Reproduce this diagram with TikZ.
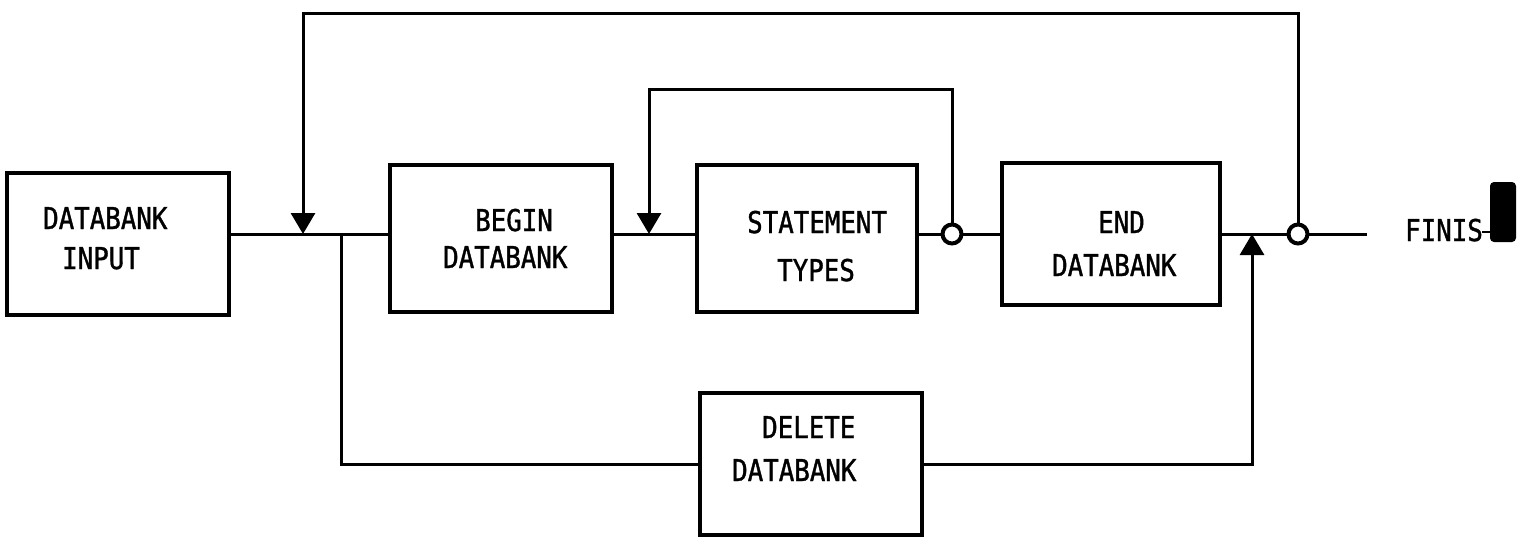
\documentclass[tikz,border=0pt]{standalone}
\usepackage{fontspec}
\newfontfamily\printfont[FakeStretch=0.86,FakeBold=1.2]{DejaVu Sans Mono}
\usetikzlibrary{arrows.meta}
\begin{document}
\begin{tikzpicture}[x=1pt,y=-1pt,
  blk/.style={draw,line width=3.4pt,inner sep=0pt},
  lbl/.style={anchor=base west,inner sep=0pt,font=\printfont\fontsize{30}{36}\selectfont},
  wire/.style={line width=3pt},
  feed/.style={wire,-{Triangle[width=24pt,length=21pt]}},
  tapring/.style={circle,draw,line width=4pt,fill=white,minimum size=19pt,inner sep=0pt}]
\useasboundingbox (0,0) rectangle (1519,539);

% processing blocks
\node[blk,minimum width=222,minimum height=142] (inp) at (118,244) {};
\node[blk,minimum width=222,minimum height=147] (beg) at (501,238.5) {};
\node[blk,minimum width=220,minimum height=147] (sta) at (807,238.5) {};
\node[blk,minimum width=218,minimum height=142] (fin) at (1111,234) {};
\node[blk,minimum width=222,minimum height=142] (del) at (811,464) {};

% block captions
\node[lbl] (inp1) at (43,229) {DATABANK};
\node[lbl] (inp2) at (62,269) {INPUT};
\node[lbl] (beg1) at (475,231) {BEGIN};
\node[lbl] (beg2) at (443,268) {DATABANK};
\node[lbl] (sta1) at (747,233) {STATEMENT};
\node[lbl] (sta2) at (777,281) {TYPES};
\node[lbl] (fin1) at (1098,233) {END};
\node[lbl] (fin2) at (1052,276) {DATABANK};
\node[lbl] (del1) at (762,438) {DELETE};
\node[lbl] (del2) at (732,481) {DATABANK};

% points on the main flow line
\coordinate (mergeA) at (303,234);
\coordinate (splitD) at (341,234);
\coordinate (mergeB) at (649,234);
\coordinate (mergeE) at (1252,234);
\coordinate (stop) at (1367,234);
\coordinate (topR) at (1298,13);
\coordinate (topS) at (952,89);

% main flow
\draw[wire] (inp.east |- mergeA) -- (beg.west |- mergeA);
\draw[wire] (beg.east |- mergeA) -- (sta.west |- mergeA);
\draw[wire] (sta.east |- mergeA) -- (fin.west |- mergeA);
\draw[wire] (fin.east |- mergeA) -- (stop);

% exit taps
\node[tapring] (tapS) at (952,234) {};
\node[tapring] (tapF) at (1298,234) {};

% loops back
\draw[feed] (tapF.north) -- (topR) -| (mergeA);
\draw[feed] (tapS.north) -- (topS) -| (mergeB);

% delete branch
\draw[wire] (splitD) |- (del.west);
\draw[feed] (del.east) -| (mergeE);

% terminal
\node[lbl] (finis) at (1405,241) {FINIS};
\node[fill,rounded corners=4pt,minimum width=26,minimum height=60,inner sep=0pt] (blob) at (1503,212) {};
\draw[line width=2.4pt] (1482,232) -- (blob.west |- 0,232);
\end{tikzpicture}
\end{document}
